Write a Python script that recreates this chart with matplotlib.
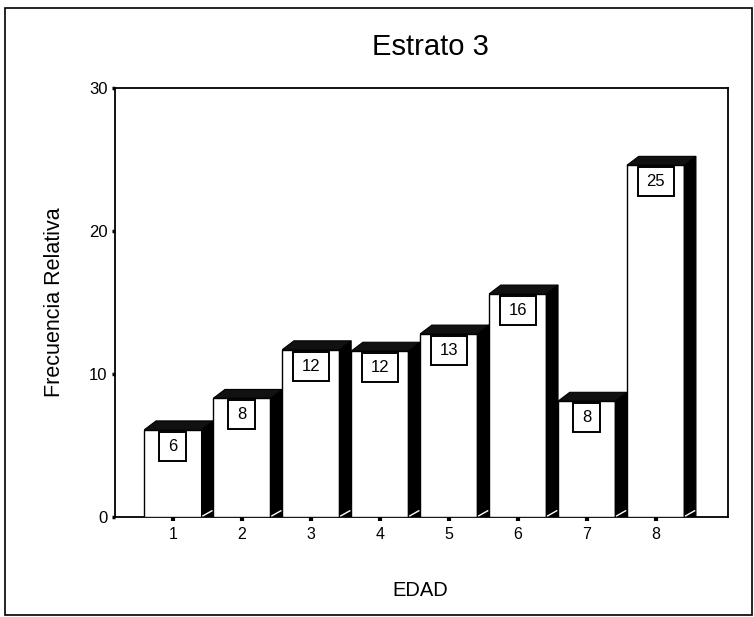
import matplotlib
matplotlib.use("Agg")
import matplotlib.pyplot as plt
from matplotlib.patches import Polygon, Rectangle

plt.rcParams['font.family'] = ['Liberation Sans', 'DejaVu Sans']

# frecuencia relativa (%) por grupo de edad
edad = [1, 2, 3, 4, 5, 6, 7, 8]
frecuencia = [6.1, 8.3, 11.7, 11.6, 12.8, 15.6, 8.1, 24.6]
yticks = [0, 10, 20, 30]

W, H = 754, 617
fig = plt.figure(figsize=(W / 100, H / 100), dpi=100)
fig.patch.set_facecolor('white')

# marco exterior
fig.patches.append(Rectangle((5 / W, 2 / H), 747 / W, 607 / H,
                             transform=fig.transFigure, fill=False,
                             edgecolor='black', linewidth=1.2))

ax_l, ax_r, ax_t, ax_b = 115, 728, 88, 517
ax = fig.add_axes([ax_l / W, (H - ax_b) / H, (ax_r - ax_l) / W, (ax_b - ax_t) / H])
xmin, xmax, ymin, ymax = 0.16, 9.05, 0, 30
ax.set_xlim(xmin, xmax)
ax.set_ylim(ymin, ymax)

# pixeles por unidad de datos
px_x = (ax_r - ax_l) / (xmax - xmin)
px_y = (ax_b - ax_t) / (ymax - ymin)

ancho = 0.83   # cara frontal
dx = 0.17      # profundidad en x
dy = 0.62      # profundidad en y

for x, v in zip(edad, frecuencia):
    x0 = x - ancho / 2
    x1 = x + ancho / 2
    # cara frontal
    ax.add_patch(Rectangle((x0, 0), ancho, v, facecolor='white',
                           edgecolor='black', linewidth=1.0, zorder=3))
    # lateral derecho
    ax.add_patch(Polygon([(x1, 0), (x1 + dx, 0), (x1 + dx, v + dy), (x1, v)],
                         closed=True, facecolor='black', edgecolor='black',
                         linewidth=0.8, zorder=3))
    # cara superior
    ax.add_patch(Polygon([(x0, v), (x0 + dx, v + dy), (x1 + dx, v + dy), (x1, v)],
                         closed=True, facecolor='#111111', edgecolor='black',
                         linewidth=0.8, zorder=3))
    # arista inferior del lateral
    ax.plot([x1 + 0.02, x1 + dx - 0.02], [0.08, dy * 0.7], color='white',
            linewidth=1.0, zorder=4)
    # etiqueta con el valor, en recuadro
    txt = f"{v:.0f}"
    bw = (18 + 9 * len(txt)) / px_x
    bh = 29 / px_y
    btop = v - 2 / px_y
    ax.add_patch(Rectangle((x - bw / 2, btop - bh), bw, bh, facecolor='white',
                           edgecolor='black', linewidth=1.4, zorder=5))
    ax.text(x, btop - bh / 2, txt, ha='center', va='center', fontsize=12,
            zorder=6)

ax.set_xticks(edad)
ax.set_xticklabels([str(e) for e in edad], fontsize=11.5)
ax.set_yticks(yticks)
ax.set_yticklabels([str(t) for t in yticks], fontsize=12)
ax.tick_params(axis='x', direction='out', length=3, width=3, pad=4)
ax.tick_params(axis='y', direction='out', length=2.5, width=2.5, pad=3)
for s in ax.spines.values():
    s.set_linewidth(1.3)

fig.text(430 / W, 1 - 47 / H, 'Estrato 3', fontsize=21, ha='center', va='center')
fig.text(55 / W, 1 - 302 / H, 'Frecuencia Relativa', fontsize=15.5,
         rotation=90, ha='center', va='center')
fig.text(420 / W, 1 - 590 / H, 'EDAD', fontsize=14.5, ha='center', va='center')

fig.savefig('out.png', dpi=100, facecolor='white')
